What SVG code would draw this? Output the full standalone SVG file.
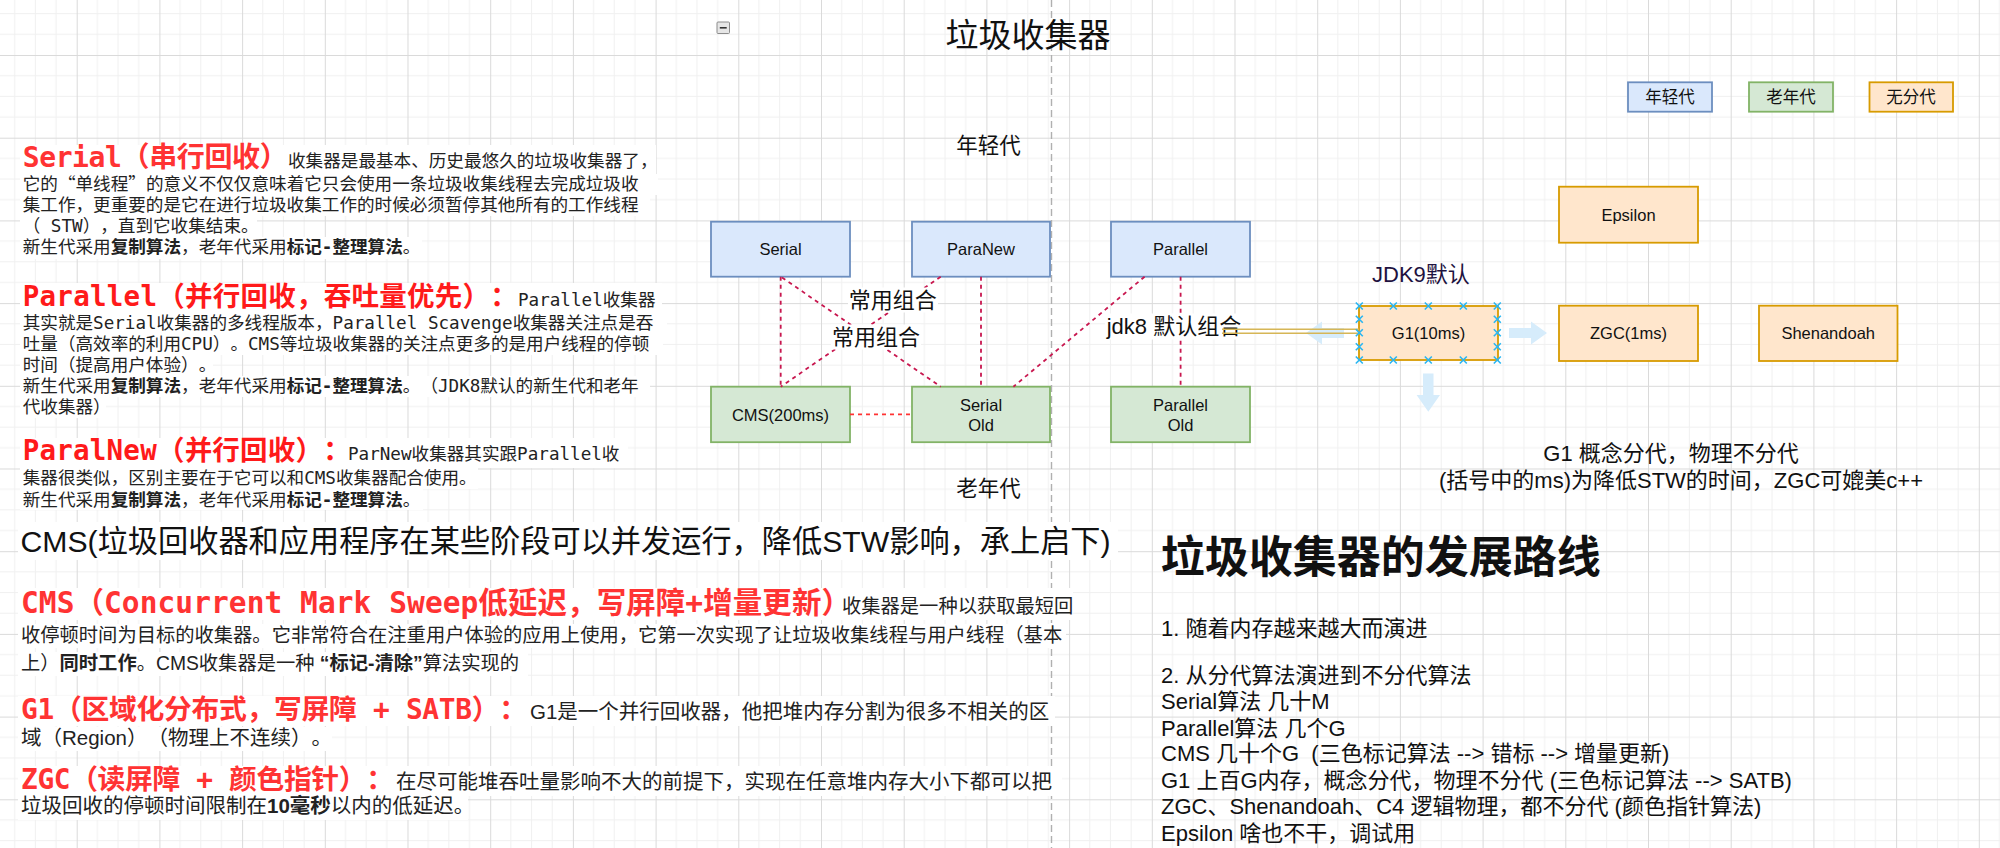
<svg xmlns="http://www.w3.org/2000/svg" xmlns:xlink="http://www.w3.org/1999/xlink" width="2000" height="848" viewBox="0 0 2000 848">
<defs>
<pattern id="grid" x="76.7" y="55" width="82.7" height="82.7" patternUnits="userSpaceOnUse">
<rect x="0" y="20.2" width="82.7" height="1" fill="#f0f0f0"/>
<rect x="0" y="40.9" width="82.7" height="1" fill="#f0f0f0"/>
<rect x="0" y="61.5" width="82.7" height="1" fill="#f0f0f0"/>
<rect x="20.2" y="0" width="1" height="82.7" fill="#f0f0f0"/>
<rect x="40.9" y="0" width="1" height="82.7" fill="#f0f0f0"/>
<rect x="61.5" y="0" width="1" height="82.7" fill="#f0f0f0"/>
<rect x="0" y="0" width="82.7" height="1" fill="#dadada"/>
<rect x="0" y="0" width="1" height="82.7" fill="#dadada"/>
</pattern>
<path id="hx" d="M-3.5 -3.5 L3.5 3.5 M-3.5 3.5 L3.5 -3.5" stroke="#29b6f2" stroke-width="1.6" fill="none"/>
<style>
text{text-spacing-trim:space-all}
.sans{font-family:"Liberation Sans","Noto Sans CJK SC",sans-serif}
.mono{font-family:"DejaVu Sans Mono","Noto Sans CJK SC",monospace}
.cjk{font-family:"Noto Sans CJK SC",sans-serif}
.b{font-weight:bold}
.hd{font-family:"DejaVu Sans Mono","Noto Sans CJK SC",monospace;font-weight:bold;fill:#ff3333}
.hd2{font-family:"DejaVu Sans Mono","Noto Sans CJK SC",monospace;font-weight:bold;fill:#ff1a1a}
.body{fill:#222}
.bg{fill:#ffffff}
.young{fill:#dae8fc;stroke:#6c8ebf;stroke-width:1.8}
.old{fill:#d5e8d4;stroke:#82b366;stroke-width:1.8}
.none{fill:#ffe6cc;stroke:#d79b00;stroke-width:1.8}
.nl{font-family:"Liberation Sans","Noto Sans CJK SC",sans-serif;font-size:16.5px;text-anchor:middle;fill:#111}
.edge{fill:none;stroke:#c8174f;stroke-width:1.8;stroke-dasharray:4 4}
.edgered{fill:none;stroke:#ff3333;stroke-width:1.8;stroke-dasharray:4 4}
.lbl{font-family:"Liberation Sans","Noto Sans CJK SC",sans-serif;font-size:22px;fill:#111}
.hover{fill:#d6ecfb}
.gold{stroke:#d6b656;stroke-width:1.6;fill:none}
</style>
</defs>

<rect x="0" y="0" width="2000" height="848" fill="#ffffff"/>
<rect x="0" y="0" width="2000" height="848" fill="url(#grid)"/>

<!-- divider -->
<path d="M1051.5 0 V848" stroke="#b0b0b0" stroke-width="1.4" stroke-dasharray="7 4" fill="none"/>

<!-- collapse icon -->
<g id="collapse-icon">
<rect x="717" y="22" width="12.5" height="11.5" rx="1" fill="#e6e6e6" stroke="#8c8c8c" stroke-width="1"/>
<path d="M719.8 27.8 H726.7" stroke="#333" stroke-width="1.6"/>
</g>

<!-- titles -->
<text class="sans" x="1028" y="47" font-size="33" text-anchor="middle" fill="#111">垃圾收集器</text>
<text class="sans" x="988.5" y="153" font-size="21.5" text-anchor="middle" fill="#111">年轻代</text>
<text class="sans" x="988.5" y="496" font-size="21.5" text-anchor="middle" fill="#111">老年代</text>

<!-- left description text -->
<g id="text-serial" class="mono">
<rect class="bg" x="20" y="145" width="636" height="29"/>
<rect class="bg" x="20" y="174" width="638" height="21"/>
<rect class="bg" x="20" y="195" width="630" height="21"/>
<rect class="bg" x="20" y="216" width="237" height="21"/>
<rect class="bg" x="20" y="237" width="402" height="22"/>
<text class="hd" x="22.7" y="167" font-size="28" textLength="265" lengthAdjust="spacing">Serial（串行回收）</text>
<text x="288" y="167" class="body" font-size="17.6">收集器是最基本、历史最悠久的垃圾收集器了，</text>
<text x="22.7" y="190" font-size="17.6" class="body">它的<tspan class="cjk">“单线程”</tspan>的意义不仅仅意味着它只会使用一条垃圾收集线程去完成垃圾收</text>
<text x="22.7" y="211" font-size="17.6" class="body">集工作，更重要的是它在进行垃圾收集工作的时候必须暂停其他所有的工作线程</text>
<text x="22.7" y="232" font-size="17.6" class="body">（ STW），直到它收集结束。</text>
<text x="22.7" y="253" font-size="17.6" class="body">新生代采用<tspan class="b">复制算法</tspan>，老年代采用<tspan class="b">标记-整理算法</tspan>。</text>
</g>

<g id="text-parallel" class="mono">
<rect class="bg" x="20" y="283" width="642" height="30"/>
<rect class="bg" x="20" y="313" width="647" height="21"/>
<rect class="bg" x="20" y="334" width="643" height="21"/>
<rect class="bg" x="20" y="355" width="193" height="21"/>
<rect class="bg" x="20" y="376" width="630" height="21"/>
<rect class="bg" x="20" y="397" width="86" height="21"/>
<text class="hd2" x="22.7" y="305.5" font-size="27.5" textLength="495" lengthAdjust="spacing">Parallel（并行回收，吞吐量优先）：</text>
<text x="518" y="305.5" class="body" font-size="17.6">Parallel收集器</text>
<text x="22.7" y="329" font-size="17.6" class="body">其实就是Serial收集器的多线程版本，Parallel Scavenge收集器关注点是吞</text>
<text x="22.7" y="350" font-size="17.6" class="body">吐量（高效率的利用CPU）。CMS等垃圾收集器的关注点更多的是用户线程的停顿</text>
<text x="22.7" y="371" font-size="17.6" class="body">时间（提高用户体验）。</text>
<text x="22.7" y="392" font-size="17.6" class="body">新生代采用<tspan class="b">复制算法</tspan>，老年代采用<tspan class="b">标记-整理算法</tspan>。（JDK8默认的新生代和老年</text>
<text x="22.7" y="412.5" font-size="17.6" class="body">代收集器）</text>
</g>

<g id="text-paralnew" class="mono">
<rect class="bg" x="20" y="438" width="608" height="30"/>
<rect class="bg" x="20" y="468" width="458" height="21"/>
<rect class="bg" x="20" y="489" width="403" height="21"/>
<text class="hd2" x="22.7" y="460" font-size="27.5" textLength="328" lengthAdjust="spacing">ParalNew（并行回收）：</text>
<text x="348" y="460" class="body" font-size="17.6">ParNew收集器其实跟Parallel收</text>
<text x="22.7" y="484" font-size="17.6" class="body">集器很类似，区别主要在于它可以和CMS收集器配合使用。</text>
<text x="22.7" y="506" font-size="17.6" class="body">新生代采用<tspan class="b">复制算法</tspan>，老年代采用<tspan class="b">标记-整理算法</tspan>。</text>
</g>

<g id="text-cms-line">
<rect class="bg" x="18" y="522" width="1100" height="38"/>
<text class="sans" x="20.5" y="552" font-size="30.2" fill="#111">CMS(垃圾回收器和应用程序在某些阶段可以并发运行，降低STW影响，承上启下)</text>
</g>

<g id="text-cms">
<rect class="bg" x="18" y="588" width="1055" height="32"/>
<rect class="bg" x="18" y="624" width="1048" height="24"/>
<rect class="bg" x="18" y="652" width="510" height="24"/>
<text class="hd" x="21" y="613" font-size="29.5" textLength="830" lengthAdjust="spacing">CMS（Concurrent Mark Sweep低延迟，写屏障+增量更新）</text>
<text x="842" y="613" class="sans body" font-size="19.3">收集器是一种以获取最短回</text>
<text class="sans body" x="21" y="642" font-size="19.3">收停顿时间为目标的收集器。它非常符合在注重用户体验的应用上使用，它第一次实现了让垃圾收集线程与用户线程（基本</text>
<text class="sans body" x="21" y="670" font-size="19.3">上）<tspan class="b">同时工作</tspan>。CMS收集器是一种 <tspan class="b">“标记-清除”</tspan>算法实现的</text>
</g>

<g id="text-g1">
<rect class="bg" x="18" y="696" width="1037" height="30"/>
<rect class="bg" x="18" y="727" width="314" height="24"/>
<text class="hd" x="21" y="719" font-size="27.8" textLength="506" lengthAdjust="spacing">G1（区域化分布式，写屏障 + SATB）：</text>
<text x="530" y="719" class="sans body" font-size="20.5">G1是一个并行回收器，他把堆内存分割为很多不相关的区</text>
<text class="sans body" x="21" y="745" font-size="20.5">域（Region）（物理上不连续）。</text>
</g>

<g id="text-zgc">
<rect class="bg" x="18" y="766" width="1044" height="30"/>
<rect class="bg" x="18" y="796" width="450" height="24"/>
<text class="hd" x="21" y="789" font-size="27.8" textLength="373" lengthAdjust="spacing">ZGC（读屏障 + 颜色指针）：</text>
<text x="396" y="789" class="sans body" font-size="20.5">在尽可能堆吞吐量影响不大的前提下，实现在任意堆内存大小下都可以把</text>
<text class="sans body" x="21" y="813" font-size="20.5">垃圾回收的停顿时间限制在<tspan class="b">10毫秒</tspan>以内的低延迟。</text>
</g>

<!-- right side notes -->
<g id="text-roadmap" class="sans" fill="#111">
<text x="1160.7" y="573" font-size="44" font-weight="bold">垃圾收集器的发展路线</text>
<text x="1161" y="635.5" font-size="22">1. 随着内存越来越大而演进</text>
<text x="1161" y="682.5" font-size="22">2. 从分代算法演进到不分代算法</text>
<text x="1161" y="709" font-size="22">Serial算法 几十M</text>
<text x="1161" y="735.5" font-size="22">Parallel算法 几个G</text>
<text x="1161" y="761" font-size="22" style="white-space:pre">CMS 几十个G  (三色标记算法 --&gt; 错标 --&gt; 增量更新)</text>
<text x="1161" y="787.5" font-size="22">G1 上百G内存，概念分代，物理不分代 (三色标记算法 --&gt; SATB)</text>
<text x="1161" y="814" font-size="22">ZGC、Shenandoah、C4 逻辑物理，都不分代 (颜色指针算法)</text>
<text x="1161" y="840.5" font-size="22">Epsilon 啥也不干，调试用</text>
</g>

<g id="text-g1note" class="sans" fill="#111" font-size="22" text-anchor="middle">
<text x="1671" y="461">G1 概念分代，物理不分代</text>
<text x="1681" y="487.5">(括号中的ms)为降低STW的时间，ZGC可媲美c++</text>
</g>

<text class="sans" x="1372" y="282" font-size="22" fill="#1e1240">JDK9默认</text>

<!-- legend -->
<g id="legend-young"><rect class="young" x="1628" y="82.3" width="84" height="29.4"/><text class="nl" x="1670" y="102.5" font-size="16">年轻代</text></g>
<g id="legend-old"><rect class="old" x="1749" y="82.3" width="84" height="29.4"/><text class="nl" x="1791" y="102.5">老年代</text></g>
<g id="legend-none"><rect class="none" x="1869.5" y="82.3" width="83.5" height="29.4"/><text class="nl" x="1911" y="102.5">无分代</text></g>

<!-- nodes -->
<g id="node-serial"><rect class="young" x="711" y="221.7" width="139" height="55"/><text class="nl" x="780.5" y="255">Serial</text></g>
<g id="node-paranew"><rect class="young" x="912" y="221.7" width="138" height="55"/><text class="nl" x="981" y="255">ParaNew</text></g>
<g id="node-parallel"><rect class="young" x="1111" y="221.7" width="139" height="55"/><text class="nl" x="1180.5" y="255">Parallel</text></g>
<g id="node-cms"><rect class="old" x="711" y="386.7" width="139" height="55.5"/><text class="nl" x="780.5" y="420.5">CMS(200ms)</text></g>
<g id="node-serialold"><rect class="old" x="912" y="386.7" width="138" height="55.5"/><text class="nl" x="981" y="410.5">Serial</text><text class="nl" x="981" y="430.5">Old</text></g>
<g id="node-parallelold"><rect class="old" x="1111" y="386.7" width="139" height="55.5"/><text class="nl" x="1180.5" y="410.5">Parallel</text><text class="nl" x="1180.5" y="430.5">Old</text></g>
<g id="node-epsilon"><rect class="none" x="1559" y="186.7" width="139" height="56"/><text class="nl" x="1628.5" y="220.7">Epsilon</text></g>
<g id="node-zgc"><rect class="none" x="1559" y="305.7" width="139" height="55.3"/><text class="nl" x="1628.5" y="339.3">ZGC(1ms)</text></g>
<g id="node-shenandoah"><rect class="none" x="1759" y="305.7" width="138.5" height="55.3"/><text class="nl" x="1828.2" y="339.3">Shenandoah</text></g>
<g id="node-g1"><rect class="none" x="1359" y="306" width="139" height="54"/><text class="nl" x="1428.5" y="339">G1(10ms)</text></g>

<!-- hover arrows around G1 -->
<g id="g1-hover">
<polygon class="hover" points="1509,328 1531,328 1531,321.5 1547,333 1531,344.5 1531,338 1509,338"/>
<polygon class="hover" points="1344,328 1322,328 1322,321.5 1306,333 1322,344.5 1322,338 1344,338"/>
<polygon class="hover" points="1423,373.5 1433.5,373.5 1433.5,395 1440,395 1428.3,411.7 1416.6,395 1423,395"/>
</g>

<!-- connectors -->
<g id="connectors">
<path class="edge" d="M780.7 276.7 V386.7"/>
<path class="edge" d="M782 277.5 L940.7 386.7"/>
<path class="edge" d="M940.7 276.7 L780.7 386.7"/>
<path class="edge" d="M981 276.7 V386.7"/>
<path class="edge" d="M1144.6 276.7 L1013.4 386.7"/>
<path class="edge" d="M1180.6 276.7 V386.7"/>
<path class="edgered" d="M850 414.3 H912"/>
<rect class="bg" x="848" y="287.5" width="90" height="25"/>
<text class="lbl" x="892.8" y="308" text-anchor="middle">常用组合</text>
<rect class="bg" x="831" y="324.5" width="90" height="25"/>
<text class="lbl" x="876" y="344.5" text-anchor="middle">常用组合</text>
<rect class="bg" x="1105" y="313.5" width="138" height="26"/>
<text class="lbl" x="1106.7" y="334">jdk8 默认组合</text>
<path class="gold" d="M1222 329.3 H1359 M1222 333.3 H1359"/>
</g>

<!-- selection handles on G1 -->
<g id="g1-handles">
<use xlink:href="#hx" x="1359.3" y="306"/><use xlink:href="#hx" x="1393.3" y="306"/><use xlink:href="#hx" x="1428.3" y="306"/><use xlink:href="#hx" x="1463.3" y="306"/><use xlink:href="#hx" x="1497.3" y="306"/>
<use xlink:href="#hx" x="1359.3" y="360"/><use xlink:href="#hx" x="1393.3" y="360"/><use xlink:href="#hx" x="1428.3" y="360"/><use xlink:href="#hx" x="1463.3" y="360"/><use xlink:href="#hx" x="1497.3" y="360"/>
<use xlink:href="#hx" x="1359.3" y="319.3"/><use xlink:href="#hx" x="1359.3" y="332.7"/><use xlink:href="#hx" x="1359.3" y="346.7"/>
<use xlink:href="#hx" x="1497.3" y="319.3"/><use xlink:href="#hx" x="1497.3" y="332.7"/><use xlink:href="#hx" x="1497.3" y="346.7"/>
</g>
</svg>
